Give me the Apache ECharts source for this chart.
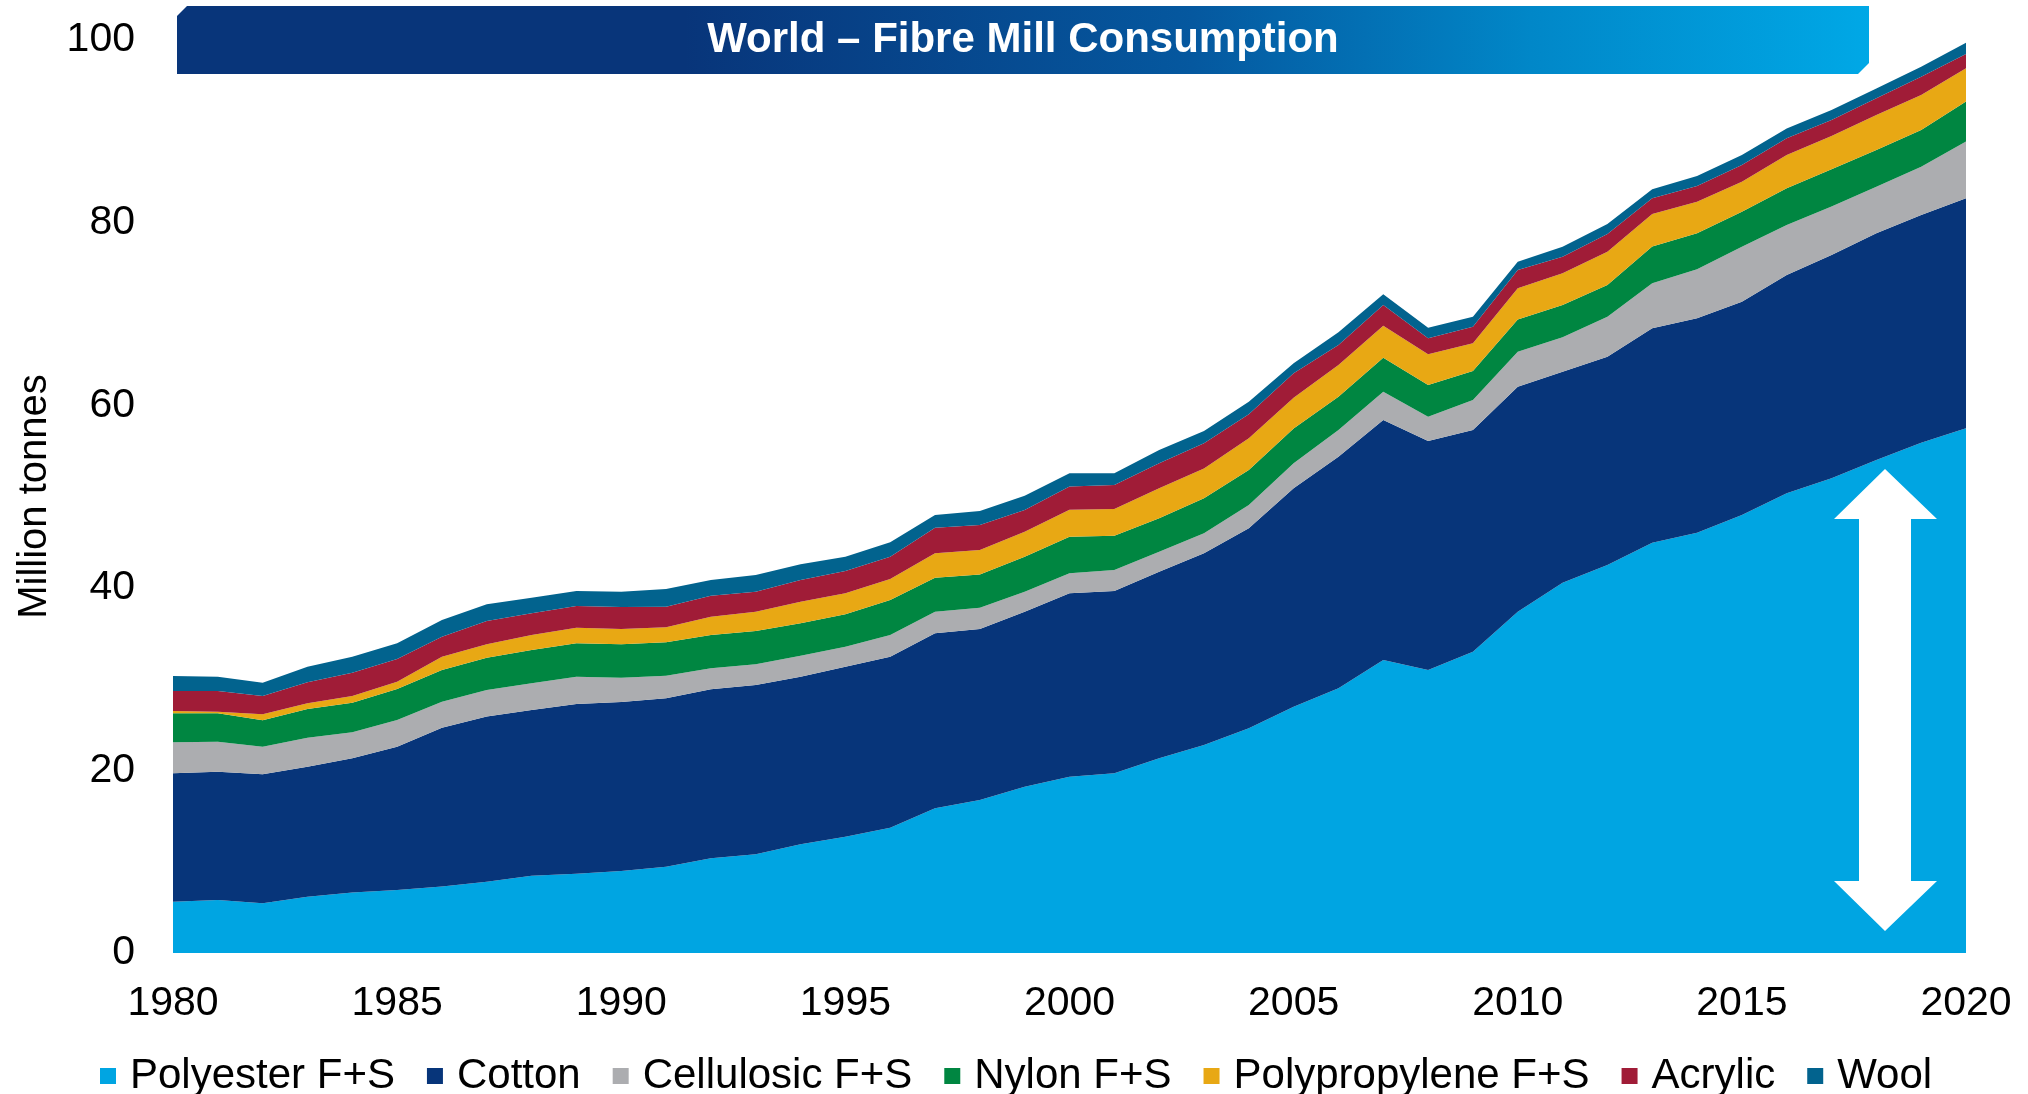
<!DOCTYPE html>
<html>
<head>
<meta charset="utf-8">
<script src="https://cdn.jsdelivr.net/npm/echarts@6/dist/echarts.min.js"></script>
<style>
html,body{margin:0;padding:0;background:#fff;}
#chart{width:2028px;height:1094px;}
</style>
</head>
<body>
<div id="chart"></div>
<script>
const years = ['1980','1981','1982','1983','1984','1985','1986','1987','1988','1989','1990','1991','1992','1993','1994','1995','1996','1997','1998','1999','2000','2001','2002','2003','2004','2005','2006','2007','2008','2009','2010','2011','2012','2013','2014','2015','2016','2017','2018','2019','2020'];
const seriesNames = ['Polyester F+S','Cotton','Cellulosic F+S','Nylon F+S','Polypropylene F+S','Acrylic','Wool'];
const polyester = [5.62,5.80,5.44,6.17,6.64,6.90,7.27,7.81,8.47,8.69,8.98,9.46,10.37,10.81,11.90,12.74,13.73,15.85,16.76,18.22,19.31,19.68,21.32,22.78,24.61,26.98,28.99,32.09,31.00,33.00,37.39,40.56,42.50,44.94,46.04,47.97,50.35,51.99,54.00,55.90,57.47];
const cotton = [14.06,14.06,14.13,14.24,14.68,15.70,17.41,18.08,18.15,18.58,18.52,18.43,18.51,18.54,18.37,18.62,18.73,19.16,18.73,19.17,20.08,19.97,20.45,21.00,21.90,23.92,25.37,26.29,25.08,24.28,24.64,23.11,22.82,23.48,23.47,23.37,23.91,24.46,24.82,24.93,25.19];
const cellulosic = [3.40,3.29,3.03,3.17,2.85,2.92,2.85,2.91,2.92,2.99,2.66,2.49,2.30,2.27,2.30,2.19,2.37,2.38,2.33,2.19,2.20,2.30,2.18,2.19,2.56,2.73,2.92,3.10,2.66,3.29,3.83,3.76,4.38,4.93,5.37,6.02,5.48,5.30,5.12,5.30,6.21];
const nylon = [3.17,3.10,2.88,3.14,3.25,3.40,3.47,3.55,3.65,3.66,3.65,3.65,3.65,3.65,3.54,3.54,3.83,3.72,3.65,3.83,4.01,3.76,3.66,3.83,3.83,3.83,3.65,3.73,3.47,3.18,3.54,3.55,3.47,4.02,3.94,3.84,4.01,4.08,4.01,4.01,4.39];
const polypropylene = [0.25,0.18,0.66,0.63,0.73,0.80,1.45,1.46,1.64,1.71,1.69,1.64,2.01,2.12,2.37,2.30,2.30,2.67,2.67,2.74,2.95,2.92,3.29,3.28,3.47,3.36,3.47,3.50,3.36,3.03,3.40,3.46,3.65,3.57,3.47,3.28,3.65,3.66,3.84,3.84,3.65];
const acrylic = [2.20,2.27,2.01,2.30,2.55,2.48,2.20,2.55,2.37,2.37,2.40,2.26,2.30,2.19,2.37,2.45,2.45,2.81,2.74,2.37,2.55,2.63,2.73,2.74,2.63,2.67,2.19,2.27,1.75,1.82,2.01,1.83,1.93,1.72,1.71,1.83,1.83,1.75,1.82,2.00,1.57];
const wool = [1.64,1.56,1.45,1.71,1.75,1.72,1.82,1.83,1.72,1.65,1.68,1.94,1.71,1.82,1.72,1.57,1.57,1.38,1.53,1.57,1.44,1.28,1.46,1.35,1.39,1.10,1.39,1.16,1.17,1.10,0.91,1.09,1.10,0.98,1.10,1.09,1.09,1.09,1.09,1.10,1.23];
const yTicks = {min: 0, max: 100, interval: 20};
const titleText = 'World \u2013 Fibre Mill Consumption';
const yAxisName = 'Million tonnes';

const colors = ['#00A5E2','#07357A','#ACADB0','#008641','#E8A814','#A01C37','#02638E'];
const allData = [polyester, cotton, cellulosic, nylon, polypropylene, acrylic, wool];
const FONT = '"Liberation Sans", Arial, Helvetica, sans-serif';

const chart = echarts.init(document.getElementById('chart'), null, {renderer: 'canvas'});

const series = seriesNames.map((name, i) => ({
  name: name,
  type: 'line',
  stack: 'total',
  data: allData[i],
  symbol: 'none',
  showSymbol: false,
  smooth: false,
  lineStyle: {width: 0, color: colors[i]},
  itemStyle: {color: colors[i]},
  areaStyle: {color: colors[i], opacity: 1},
  emphasis: {disabled: true},
  z: 2
}));

const option = {
  backgroundColor: '#ffffff',
  animation: false,
  textStyle: {fontFamily: FONT},
  grid: {left: 173, right: 62, top: 40, bottom: 141, containLabel: false},
  xAxis: {
    type: 'category',
    data: years,
    boundaryGap: false,
    axisLine: {show: false},
    axisTick: {show: false},
    splitLine: {show: false},
    axisLabel: {
      interval: 4,
      margin: 30,
      color: '#000',
      fontSize: 41,
      fontFamily: FONT,
      showMaxLabel: true,
      hideOverlap: false
    }
  },
  yAxis: {
    type: 'value',
    min: yTicks.min,
    max: yTicks.max,
    interval: yTicks.interval,
    name: yAxisName,
    nameLocation: 'middle',
    nameGap: 118,
    nameTextStyle: {color: '#000', fontSize: 40, fontFamily: FONT},
    axisLine: {show: false},
    axisTick: {show: false},
    splitLine: {show: false},
    axisLabel: {margin: 38, color: '#000', fontSize: 41, fontFamily: FONT}
  },
  legend: {
    data: seriesNames,
    left: 95,
    top: 1050,
    icon: 'rect',
    itemWidth: 16,
    itemHeight: 16,
    itemGap: 32,
    textStyle: {color: '#000', fontSize: 42, fontFamily: FONT, padding: [0, 0, 0, 9]},
    selectedMode: false
  },
  graphic: [
    {
      type: 'polygon',
      z: 10,
      shape: {points: [[187, 6], [1869, 6], [1869, 63], [1858, 74], [177, 74], [177, 16]]},
      style: {
        fill: new echarts.graphic.LinearGradient(0, 0, 1, 0, [
          {offset: 0, color: '#08357A'},
          {offset: 0.3, color: '#08357A'},
          {offset: 0.6, color: '#05589F'},
          {offset: 0.8, color: '#0187C8'},
          {offset: 1, color: '#00A8E6'}
        ])
      }
    },
    {
      type: 'text',
      z: 11,
      x: 1023,
      y: 40,
      style: {
        text: titleText,
        fill: '#fff',
        font: 'bold 42px ' + FONT,
        textAlign: 'center',
        textVerticalAlign: 'middle'
      }
    },
    {
      type: 'polygon',
      z: 10,
      shape: {points: [
        [1885, 469], [1937, 519], [1911, 519], [1911, 881], [1937, 881],
        [1885, 931], [1834, 881], [1859, 881], [1859, 519], [1834, 519]
      ]},
      style: {fill: '#ffffff'}
    }
  ],
  series: series
};

chart.setOption(option);
</script>
</body>
</html>
